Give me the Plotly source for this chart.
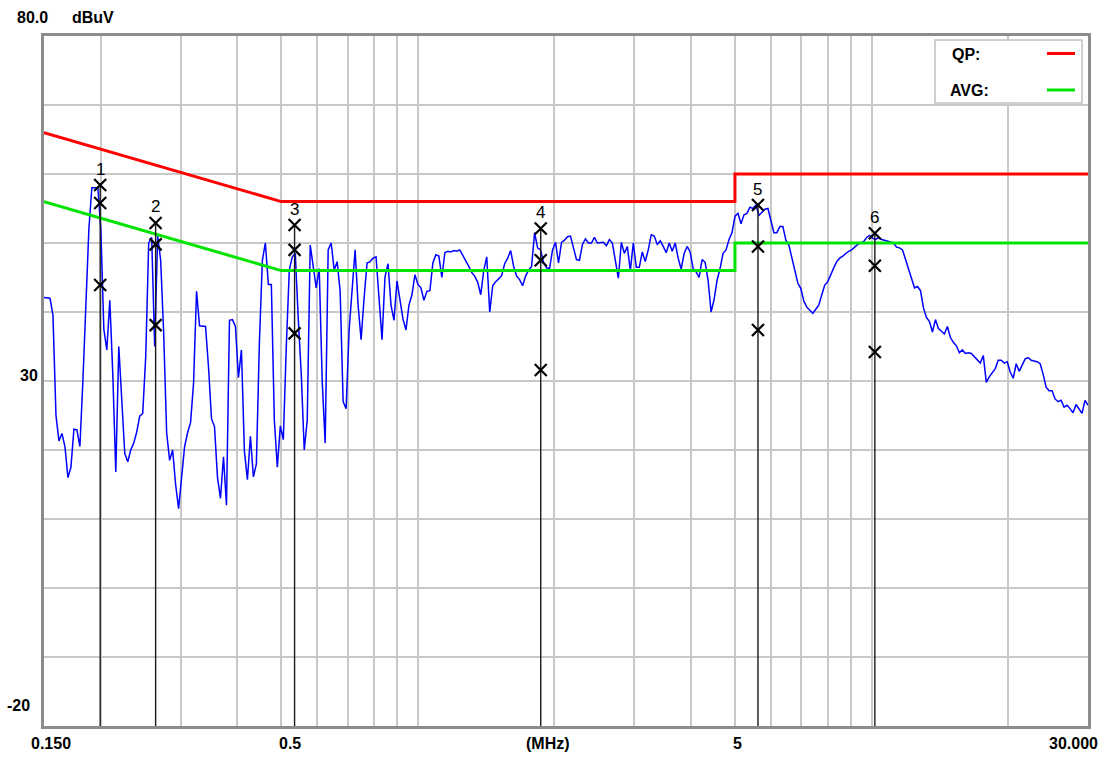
import numpy as np
import plotly.graph_objects as go

# Conducted emission scan, dBuV, on the receiver's log-spaced sweep 0.15-30 MHz
trace_dbuv = [
    42.1, 42.1, 42.0, 39.5, 25.0, 21.3, 22.4, 20.5, 16.0, 17.5,
    23.0, 22.9, 20.5, 30.0, 42.0, 52.0, 58.0, 58.0, 58.0, 52.0,
    37.5, 34.5, 41.7, 31.0, 16.8, 35.0, 27.0, 19.5, 18.3, 20.0,
    21.0, 22.6, 24.9, 25.3, 33.5, 50.0, 50.8, 35.0, 51.0, 47.5,
    37.0, 22.5, 18.5, 20.0, 15.0, 11.5, 16.0, 20.5, 22.5, 24.0,
    29.7, 43.0, 38.0, 37.9, 37.9, 32.0, 24.5, 23.4, 16.0, 13.0,
    19.0, 12.0, 38.8, 38.9, 37.9, 30.5, 34.5, 19.8, 15.7, 22.0,
    16.1, 18.0, 35.5, 47.5, 50.0, 44.0, 44.0, 24.3, 17.5, 23.5,
    21.5, 35.0, 46.1, 48.0, 48.5, 39.0, 31.0, 20.0, 24.3, 49.7,
    46.6, 43.5, 46.3, 30.0, 21.0, 49.0, 50.0, 46.1, 47.3, 43.0,
    27.0, 26.0, 37.4, 43.5, 49.0, 41.0, 36.0, 42.0, 47.1, 47.3,
    47.8, 48.0, 42.5, 36.0, 45.1, 47.0, 41.0, 38.8, 44.5, 41.5,
    39.0, 37.4, 41.0, 42.5, 45.4, 44.0, 43.5, 41.7, 43.0, 43.1,
    47.1, 48.3, 48.1, 45.0, 48.6, 48.8, 48.7, 48.9, 48.8, 49.0,
    48.3, 47.4, 46.6, 45.7, 45.2, 44.3, 42.5, 46.0, 48.0, 40.0,
    43.8, 44.4, 44.8, 45.3, 47.0, 47.8, 48.9, 46.6, 45.2, 44.7,
    43.8, 45.2, 46.1, 46.6, 51.5, 49.3, 49.0, 47.2, 46.4, 46.3,
    49.0, 50.1, 47.1, 50.1, 50.4, 50.9, 51.0, 49.4, 47.6, 47.5,
    49.8, 50.6, 50.0, 50.0, 50.8, 50.0, 50.1, 50.1, 49.6, 50.5,
    50.0, 47.5, 44.9, 50.1, 48.5, 49.5, 46.0, 50.0, 46.5, 46.5,
    48.7, 47.3, 49.0, 51.2, 51.0, 49.8, 50.3, 49.5, 48.6, 50.0,
    48.8, 50.0, 47.8, 46.2, 48.5, 49.5, 48.7, 46.3, 45.8, 45.0,
    47.6, 47.2, 44.6, 40.0, 41.8, 44.6, 46.3, 48.5, 49.0, 50.5,
    51.5, 53.9, 54.3, 52.8, 54.1, 54.3, 55.2, 55.0, 55.5, 54.0,
    54.4, 54.9, 55.0, 53.2, 51.5, 51.5, 52.4, 52.4, 50.4, 49.7,
    48.0, 46.0, 44.2, 43.4, 41.6, 40.7, 40.2, 39.8, 40.4, 41.0,
    42.5, 43.9, 44.4, 45.5, 46.4, 47.3, 47.8, 48.1, 48.5, 48.8,
    49.0, 49.4, 49.8, 50.0, 50.2, 50.8, 51.1, 50.7, 50.5, 50.8,
    50.5, 50.4, 50.3, 50.2, 50.0, 49.4, 49.3, 49.0, 47.7, 46.4,
    44.9, 43.5, 43.7, 43.1, 40.6, 39.2, 38.6, 37.1, 38.9, 37.6,
    37.2, 36.8, 37.9, 36.3, 35.6, 35.1, 34.1, 34.5, 34.0, 34.1,
    34.0, 33.5, 33.0, 32.6, 33.7, 29.8, 30.6, 31.2, 31.8, 33.0,
    33.0, 32.6, 32.8, 31.3, 30.4, 32.5, 31.4, 32.3, 33.2, 33.4,
    33.0, 32.9, 32.8, 32.5, 31.0, 29.1, 28.6, 28.6, 27.4, 27.0,
    27.2, 26.2, 26.5, 26.0, 25.4, 26.6, 26.0, 25.3, 27.2, 26.5,
]
sweep_mhz = np.geomspace(0.15, 30.0, len(trace_dbuv))

# Limit lines (CISPR 22 class B style)
qp_limit_mhz = [0.15, 0.5, 5.0, 5.0, 30.0]
qp_limit_dbuv = [66.0, 56.0, 56.0, 60.0, 60.0]
avg_limit_mhz = [0.15, 0.5, 5.0, 5.0, 30.0]
avg_limit_dbuv = [56.0, 46.0, 46.0, 50.0, 50.0]

# Final measurement markers
marker_ids = ["1", "2", "3", "4", "5", "6"]
marker_mhz = [0.1995, 0.2643, 0.535, 1.866, 5.62, 10.17]
marker_peak = [58.4, 52.9, 52.6, 52.1, 55.5, 51.4]
marker_qp = [55.8, 49.8, 49.0, 47.5, 49.5, 46.7]
marker_avg = [43.9, 38.1, 36.9, 31.6, 37.4, 34.2]

# Axis settings
f_min, f_max = 0.15, 30.0
y_min, y_max = -20.0, 80.0
grid_mhz = [0.2, 0.3, 0.4, 0.5, 0.6, 0.7, 0.8, 0.9,
            1, 2, 3, 4, 5, 6, 7, 8, 9, 10, 20]
grid_dbuv = [-10, 0, 10, 20, 30, 40, 50, 60, 70]

FONT = "Liberation Sans, Arial, sans-serif"
W, H = 1104, 758
ML, MR, MT, MB = 44, 16, 36, 32
PW, PH = W - ML - MR, H - MT - MB


def px(xp):
    return (xp - ML) / PW


def py(yp):
    return (H - MB - yp) / PH


def label(xp, yp, text, anchor="center", size=16, bold=True):
    return dict(
        x=px(xp), y=py(yp), xref="paper", yref="paper",
        text="<b>" + text + "</b>" if bold else text,
        showarrow=False, xanchor=anchor, yanchor="middle",
        font=dict(family=FONT, size=size, color="#000000"))


fig = go.Figure()

fig.add_trace(go.Scatter(
    x=sweep_mhz, y=trace_dbuv, mode="lines",
    line=dict(color="#0000ff", width=1.5), hoverinfo="skip", showlegend=False))

fig.add_trace(go.Scatter(
    x=qp_limit_mhz, y=qp_limit_dbuv, mode="lines",
    line=dict(color="#ff0000", width=3), showlegend=False))
fig.add_trace(go.Scatter(
    x=avg_limit_mhz, y=avg_limit_dbuv, mode="lines",
    line=dict(color="#00e400", width=3), showlegend=False))

# Vertical marker stems from the floor up to the peak reading
for f, top in zip(marker_mhz, marker_peak):
    fig.add_trace(go.Scatter(
        x=[f, f], y=[y_min, top], mode="lines",
        line=dict(color="#1a1a1a", width=1.4), showlegend=False, hoverinfo="skip"))

for vals in (marker_peak, marker_qp, marker_avg):
    fig.add_trace(go.Scatter(
        x=marker_mhz, y=vals, mode="markers",
        marker=dict(symbol="x-thin", size=12, line=dict(color="#000000", width=2.2)),
        showlegend=False))

annotations = []
for mid, f, top in zip(marker_ids, marker_mhz, marker_peak):
    annotations.append(dict(
        x=np.log10(f), y=top, xref="x", yref="y", text=mid, showarrow=False,
        xanchor="center", yanchor="middle", yshift=16,
        font=dict(family=FONT, size=17, color="#000000")))

# Axis texts
annotations += [
    label(32, 18, "80.0"),
    label(93, 18, "dBuV"),
    label(40, 375.5, "30", anchor="right"),
    label(18, 705.5, "-20"),
    label(50.5, 743, "0.150"),
    label(290, 743, "0.5"),
    label(548, 743, "(MHz)"),
    label(737, 743, "5"),
    label(1100, 743, "30.000", anchor="right"),
]

# Legend box
annotations += [
    label(950, 54.5, "QP:", anchor="left"),
    label(948, 90, "AVG:", anchor="left"),
]
shapes = [
    dict(type="rect", xref="paper", yref="paper", x0=px(935), x1=px(1082),
         y0=py(103), y1=py(40), line=dict(color="#c0c0c0", width=1.5),
         fillcolor="#ffffff", layer="above"),
    dict(type="line", xref="paper", yref="paper", x0=px(1047), x1=px(1075),
         y0=py(53.5), y1=py(53.5), line=dict(color="#ff0000", width=3), layer="above"),
    dict(type="line", xref="paper", yref="paper", x0=px(1047), x1=px(1075),
         y0=py(90), y1=py(90), line=dict(color="#00e400", width=3), layer="above"),
]

fig.update_layout(
    width=W, height=H,
    margin=dict(l=ML, r=MR, t=MT, b=MB, pad=0),
    paper_bgcolor="#ffffff", plot_bgcolor="#ffffff",
    showlegend=False,
    annotations=annotations,
    shapes=shapes,
    xaxis=dict(
        type="log", range=[np.log10(f_min), np.log10(f_max)],
        tickvals=grid_mhz, showticklabels=False, ticks="",
        showgrid=True, gridcolor="#c8c8c8", gridwidth=2,
        showline=True, linecolor="#8c8c8c", linewidth=3, mirror=True,
        zeroline=False, fixedrange=True),
    yaxis=dict(
        range=[y_min, y_max], tickvals=grid_dbuv, showticklabels=False, ticks="",
        showgrid=True, gridcolor="#c8c8c8", gridwidth=2,
        showline=True, linecolor="#8c8c8c", linewidth=3, mirror=True,
        zeroline=False, fixedrange=True),
)

fig.write_html("out.html", config={"displayModeBar": False})
